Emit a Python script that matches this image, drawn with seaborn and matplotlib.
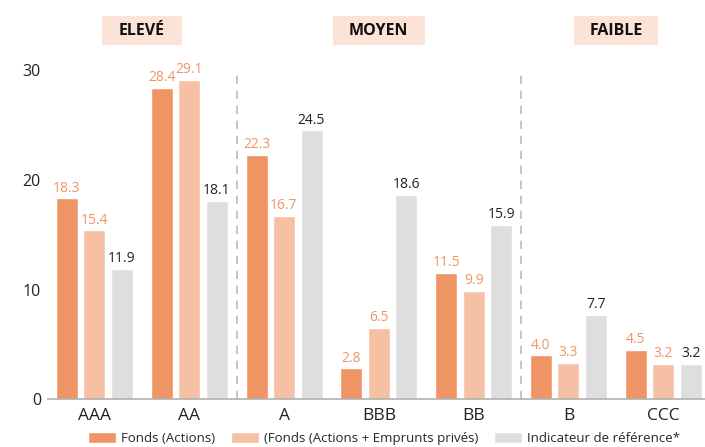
import numpy as np
import pandas as pd
import matplotlib.pyplot as plt
import seaborn as sns
from matplotlib.patches import Rectangle
import matplotlib.transforms as mtransforms

sns.set_style("white")
plt.rcParams["font.family"] = ["Open Sans", "DejaVu Sans"]

# -----------------------------------------------------------------
# Data
# -----------------------------------------------------------------
ratings = ["AAA", "AA", "A", "BBB", "BB", "B", "CCC"]
fonds_actions = [18.3, 28.4, 22.3, 2.8, 11.5, 4.0, 4.5]
fonds_mixte = [15.4, 29.1, 16.7, 6.5, 9.9, 3.3, 3.2]
indicateur = [11.9, 18.1, 24.5, 18.6, 15.9, 7.7, 3.2]

series_names = ["Fonds (Actions)", "(Fonds (Actions + Emprunts privés)", "Indicateur de référence*"]
groups = ["ELEVÉ", "MOYEN", "FAIBLE"]
group_centers = [0.5, 3.0, 5.5]
group_widths = [0.84, 0.97, 0.89]
separators = [1.5, 4.5]
yticks = [0, 10, 20, 30]

colors = ["#EF9565", "#F5C0A4", "#DEDEDE"]
label_colors = ["#EF9565", "#EF9565", "#222222"]

df = pd.DataFrame({
    "Notation": ratings * 3,
    "Série": np.repeat(series_names, len(ratings)),
    "Valeur": fonds_actions + fonds_mixte + indicateur,
})

# -----------------------------------------------------------------
# Plot
# -----------------------------------------------------------------
fig = plt.figure(figsize=(7.05, 4.47), dpi=100)
ax = fig.add_axes([0.068, 0.107, 0.932, 0.736])

sns.barplot(data=df, x="Notation", y="Valeur", hue="Série", order=ratings,
            hue_order=series_names, palette=colors, width=0.87, gap=0.2,
            saturation=1, ax=ax, legend=True)

for cont, col in zip(ax.containers, label_colors):
    ax.bar_label(cont, fmt="%.1f", padding=2, fontsize=10, color=col)

ax.set_xlim(-0.49, 6.44)
ax.set_ylim(0, 30)
ax.set_yticks(yticks)
ax.set_xlabel("")
ax.set_ylabel("")
ax.tick_params(axis="y", length=0, pad=5, labelsize=11.5, colors="#222222")
ax.tick_params(axis="x", length=0, pad=6, labelsize=12.5, colors="#222222")
for s in ["top", "right", "left"]:
    ax.spines[s].set_visible(False)
ax.spines["bottom"].set_color("#B0B0B0")
ax.spines["bottom"].set_linewidth(1.2)

for xs in separators:
    ax.plot([xs, xs], [0, 30], color="#BBBBBB", linestyle=(0, (5, 4)),
            linewidth=1.2, clip_on=False, zorder=0)

# group headers
trans = mtransforms.blended_transform_factory(ax.transData, ax.transAxes)
for name, cx, w in zip(groups, group_centers, group_widths):
    ax.add_patch(Rectangle((cx - w / 2, 1.076), w, 0.09, transform=trans,
                           facecolor="#FCE3D7", edgecolor="none", clip_on=False))
    ax.text(cx, 1.12, name, transform=trans, ha="center", va="center",
            fontsize=11.5, fontweight="bold", color="#111111")

# legend
handles, labels = ax.get_legend_handles_labels()
ax.get_legend().remove()
fig.legend(handles, labels, loc="lower center", bbox_to_anchor=(0.545, -0.022),
           ncol=3, frameon=False, fontsize=9.5, handlelength=2.1, handleheight=1.0,
           handletextpad=0.4, columnspacing=1.2)

plt.savefig("out.png", dpi=100)
